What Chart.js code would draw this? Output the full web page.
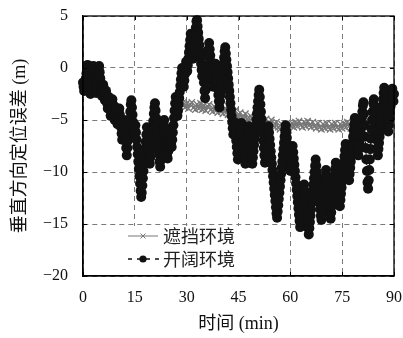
<!DOCTYPE html>
<html>
<head>
<meta charset="utf-8">
<script src="https://cdn.jsdelivr.net/npm/chart.js@4.4.0/dist/chart.umd.min.js"></script>
<style>
  html, body { margin: 0; padding: 0; background: #fff; }
  canvas { display: block; }
</style>
</head>
<body>
<canvas id="c" width="403" height="338"></canvas>
<script>
// Axis ticks
const xTicks = [0, 15, 30, 45, 60, 75, 90];
const yTicks = [-20, -15, -10, -5, 0, 5];
const seriesNames = ['遮挡环境', '开阔环境'];
const xTitle = '时间 (min)';
const yTitle = '垂直方向定位误差 (m)';

// 遮挡环境: vertical error (m), sampled every 0.5 min from 29 min
const blockedStart = 29, blockedStep = 0.5;
const blockedErr = [
  -3.3, -3.8, -3.4, -3.9, -3.5, -3.3, -3.8, -4.0, -3.5, -3.9,
  -3.4, -4.0, -3.6, -4.1, -3.7, -3.5, -4.0, -4.2, -3.7, -4.1,
  -4.3, -3.8, -4.2, -4.4, -3.9, -4.3, -4.5, -4.0, -4.4, -4.6,
  -4.1, -4.6, -4.8, -4.3, -4.7, -4.9, -4.4, -4.9, -5.1, -4.6,
  -4.8, -5.2, -4.7, -5.1, -5.3, -4.8, -5.2, -5.4, -4.9, -5.3,
  -5.5, -5.0, -5.5, -5.7, -5.2, -5.7, -5.9, -5.4, -6.0, -6.1,
  -5.6, -6.0, -5.5, -5.3, -5.7, -5.2, -5.6, -5.1, -5.5, -5.7,
  -5.2, -5.6, -5.1, -5.5, -5.7, -5.2, -5.6, -5.8, -5.3, -5.7,
  -5.9, -5.4, -5.8, -5.3, -5.7, -5.9, -5.4, -5.8, -5.3, -5.7,
  -5.9, -5.4, -5.8, -5.3, -5.7, -5.2, -5.6, -5.8, -5.3, -5.1,
  -5.6, -5.2, -5.0, -5.5, -5.1, -5.6, -5.2, -5.0, -5.5, -5.1,
  -4.9, -5.4, -5.6, -5.1, -5.5, -5.0, -5.4, -5.6, -5.1, -4.9,
  -5.4, -5.0, -5.2
];

// 开阔环境: vertical error (m), sampled every 10 s from 0 min (one row per minute)
const openStart = 0, openStep = 1 / 6;
const openErr = [
  -1.4, -1.8, -2.2, -1.9, -1.4, -1.0,
  -0.5, -0.1, 0.3, -0.2, -0.8, -1.4,
  -2.0, -2.5, -2.0, -1.4, -0.8, -0.2,
  0.2, -0.3, -0.9, -1.5, -2.1, -2.4,
  -1.8, -1.2, -0.6, -0.1, 0.2, -0.4,
  -1.0, -1.6, -2.2, -2.7, -2.2, -1.6,
  -1.9, -2.5, -3.1, -2.7, -2.2, -2.8,
  -3.4, -3.9, -3.3, -2.8, -3.4, -4.0,
  -4.6, -4.1, -3.5, -3.0, -3.5, -4.1,
  -4.7, -5.0, -4.4, -3.8, -4.3, -4.9,
  -5.4, -4.8, -4.2, -3.9, -4.5, -5.1,
  -5.7, -6.3, -6.9, -6.3, -5.7, -5.0,
  -5.6, -6.3, -7.0, -7.7, -8.4, -7.7,
  -7.0, -6.3, -5.6, -4.9, -4.2, -3.5,
  -3.1, -3.8, -4.5, -5.2, -5.9, -6.6,
  -6.0, -5.5, -6.2, -6.9, -7.6, -8.3,
  -9.0, -9.7, -10.4, -11.1, -11.8, -12.4,
  -12.0, -11.3, -10.6, -9.9, -9.2, -8.5,
  -7.8, -7.1, -6.4, -5.7, -6.4, -7.1,
  -7.8, -8.5, -9.2, -8.6, -7.9, -7.2,
  -6.5, -5.8, -5.1, -4.4, -3.8, -3.4,
  -4.1, -4.8, -5.5, -6.2, -6.9, -7.6,
  -8.3, -9.0, -9.5, -8.9, -8.2, -7.5,
  -6.8, -6.1, -5.4, -5.0, -5.7, -6.4,
  -7.1, -7.8, -8.5, -8.7, -8.0, -7.3,
  -6.6, -5.9, -6.6, -7.3, -7.6, -6.9,
  -6.2, -5.5, -4.8, -4.1, -3.4, -2.8,
  -3.4, -4.0, -4.6, -4.1, -3.5, -2.9,
  -2.3, -1.7, -1.1, -0.5, 0.0, -0.6,
  -1.2, -1.8, -1.2, -0.6, 0.0, 0.6,
  0.2, -0.3, 0.3, 0.9, 1.5, 2.1,
  2.7, 3.3, 2.7, 2.1, 1.5, 0.9,
  1.5, 2.1, 2.7, 3.3, 3.9, 4.5,
  4.6, 4.0, 3.4, 2.8, 2.2, 1.6,
  1.0, 0.4, -0.2, -0.8, 0.2, 1.2,
  -1.4, -2.2, -2.9, -2.1, -1.3, -0.5,
  0.3, 1.1, 1.8, 2.4, 1.8, 1.2,
  0.6, 0.0, -0.6, -1.2, -1.8, -1.2,
  -0.6, 0.0, 0.4, -0.2, -0.8, -1.4,
  -2.0, -2.6, -3.2, -3.8, -3.2, -2.6,
  -2.0, -1.4, -0.8, -0.2, 0.4, 1.0,
  1.6, 2.0, 1.4, 0.8, 0.2, -0.4,
  -1.0, -1.6, -2.2, -2.8, -3.4, -4.0,
  -4.6, -5.2, -5.8, -6.4, -5.8, -5.2,
  -5.8, -6.4, -7.0, -7.6, -8.2, -8.8,
  -8.3, -7.7, -7.1, -6.5, -5.9, -5.3,
  -5.9, -6.5, -7.1, -7.7, -8.3, -8.9,
  -9.2, -8.6, -8.0, -7.4, -6.8, -6.2,
  -5.6, -6.2, -6.8, -7.4, -8.0, -8.6,
  -9.2, -8.6, -8.0, -7.4, -6.8, -6.2,
  -5.6, -5.0, -4.4, -3.8, -3.2, -2.6,
  -2.1, -2.8, -3.5, -4.2, -4.9, -5.6,
  -6.3, -7.0, -7.7, -8.4, -9.1, -8.6,
  -8.0, -7.4, -6.8, -6.2, -5.6, -6.2,
  -6.8, -7.4, -8.0, -8.6, -9.2, -9.8,
  -10.4, -11.0, -11.6, -12.2, -12.8, -13.4,
  -14.0, -14.4, -13.8, -13.2, -12.6, -12.0,
  -11.4, -10.8, -10.2, -9.6, -9.0, -8.4,
  -7.8, -7.2, -6.6, -6.0, -5.5, -6.1,
  -6.7, -7.3, -7.9, -8.5, -9.1, -9.7,
  -9.9, -9.3, -8.7, -8.1, -7.5, -8.1,
  -8.7, -9.3, -9.9, -10.5, -11.1, -11.7,
  -12.3, -12.9, -13.5, -14.1, -14.7, -15.3,
  -14.8, -14.2, -13.6, -13.0, -12.4, -11.8,
  -11.2, -11.8, -12.4, -13.0, -13.6, -14.2,
  -14.8, -15.4, -16.0, -15.4, -14.8, -14.2,
  -13.6, -13.0, -12.4, -11.8, -11.2, -10.6,
  -10.0, -9.4, -8.8, -9.4, -10.0, -10.6,
  -11.2, -11.8, -12.4, -13.0, -13.6, -14.2,
  -14.6, -14.0, -13.4, -12.8, -12.2, -11.6,
  -11.0, -10.4, -9.8, -10.4, -11.0, -11.6,
  -12.2, -12.8, -13.4, -14.0, -14.5, -13.9,
  -13.3, -12.7, -12.1, -11.5, -10.9, -10.3,
  -9.7, -9.1, -9.7, -10.3, -10.9, -11.5,
  -12.1, -12.7, -13.3, -12.7, -12.1, -11.5,
  -10.9, -10.3, -9.7, -9.1, -8.5, -7.9,
  -7.3, -7.9, -8.5, -9.1, -9.7, -10.3,
  -10.8, -10.2, -9.6, -9.0, -8.4, -7.8,
  -7.2, -6.6, -6.0, -5.4, -4.8, -5.4,
  -6.0, -6.6, -7.2, -7.8, -8.4, -7.8,
  -7.2, -6.6, -6.0, -5.4, -4.8, -4.2,
  -3.6, -3.3, -4.4, -5.5, -6.6, -7.7,
  -8.8, -9.9, -11.0, -11.6, -10.8, -9.8,
  -8.8, -7.8, -6.8, -5.9, -5.0, -4.2,
  -3.4, -3.0, -3.7, -4.5, -5.3, -6.1,
  -6.9, -7.7, -8.4, -7.8, -7.2, -6.6,
  -6.0, -5.4, -4.8, -4.2, -3.6, -3.0,
  -2.4, -1.9, -2.5, -3.1, -3.7, -4.3,
  -4.9, -5.5, -6.1, -5.5, -4.9, -4.3,
  -3.7, -3.1, -2.5, -2.0, -2.6, -3.2,
  -2.5
];

const toPoints = (start, step, vals) => vals.map((v, i) => ({ x: start + i * step, y: v }));

const SERIF = '"Liberation Serif", "Noto Sans CJK SC", serif';
const GRAY = '#777';
const fmt = v => String(v).replace('-', '\u2212');

// Solid frame round the plot plus short inward tick marks
const framePlugin = {
  id: 'frame',
  afterDatasetsDraw(chart) {
    const { ctx, chartArea: a, scales: { x, y } } = chart;
    ctx.save();
    ctx.strokeStyle = '#000';
    ctx.lineWidth = 1.3;
    ctx.setLineDash([]);
    ctx.strokeRect(a.left, a.top, a.right - a.left, a.bottom - a.top);
    ctx.lineWidth = 1;
    ctx.beginPath();
    xTicks.forEach(v => {
      const px = Math.round(x.getPixelForValue(v)) + 0.5;
      ctx.moveTo(px, a.bottom); ctx.lineTo(px, a.bottom - 4);
      ctx.moveTo(px, a.top); ctx.lineTo(px, a.top + 4);
    });
    yTicks.forEach(v => {
      const py = Math.round(y.getPixelForValue(v)) + 0.5;
      ctx.moveTo(a.left, py); ctx.lineTo(a.left + 4, py);
      ctx.moveTo(a.right, py); ctx.lineTo(a.right - 4, py);
    });
    ctx.stroke();
    ctx.restore();
  }
};

// Boxed legend in the lower-left corner of the plot
const legendPlugin = {
  id: 'boxLegend',
  afterDraw(chart) {
    const { ctx, chartArea: a } = chart;
    const left = a.left + 42, top = a.bottom - 50;
    ctx.save();
    ctx.fillStyle = '#fff';
    ctx.fillRect(left, top, 120, 49);
    const sx0 = left + 3, sx1 = left + 33, cx = left + 18;
    const rows = [top + 10, top + 33];
    // row 1: grey solid line with cross
    ctx.strokeStyle = GRAY; ctx.lineWidth = 1;
    ctx.beginPath(); ctx.moveTo(sx0, rows[0]); ctx.lineTo(sx1, rows[0]); ctx.stroke();
    ctx.beginPath();
    ctx.moveTo(cx - 2.5, rows[0] - 2.5); ctx.lineTo(cx + 2.5, rows[0] + 2.5);
    ctx.moveTo(cx - 2.5, rows[0] + 2.5); ctx.lineTo(cx + 2.5, rows[0] - 2.5);
    ctx.stroke();
    // row 2: black dashed line with dot
    ctx.strokeStyle = '#111'; ctx.lineWidth = 1.5;
    ctx.setLineDash([4, 5]);
    ctx.beginPath(); ctx.moveTo(sx0, rows[1]); ctx.lineTo(sx1 + 2, rows[1]); ctx.stroke();
    ctx.setLineDash([]);
    ctx.fillStyle = '#111';
    ctx.beginPath(); ctx.arc(cx, rows[1], 3.6, 0, Math.PI * 2); ctx.fill();
    ctx.font = '18px "Noto Sans CJK SC", sans-serif';
    ctx.fillStyle = '#222';
    ctx.textBaseline = 'middle';
    ctx.fillText(seriesNames[0], left + 38, rows[0]);
    ctx.fillText(seriesNames[1], left + 38, rows[1]);
    ctx.restore();
  }
};

new Chart(document.getElementById('c'), {
  type: 'line',
  data: {
    datasets: [
      {
        label: seriesNames[0],
        data: toPoints(blockedStart, blockedStep, blockedErr),
        borderColor: GRAY,
        borderWidth: 1.3,
        pointStyle: 'crossRot',
        pointRadius: 4.5,
        pointBorderColor: GRAY,
        pointBorderWidth: 1.3,
        order: 2
      },
      {
        label: seriesNames[1],
        data: toPoints(openStart, openStep, openErr),
        borderColor: '#111',
        borderWidth: 1,
        borderDash: [3, 2],
        pointStyle: 'circle',
        pointRadius: 5,
        pointBackgroundColor: '#111',
        pointBorderWidth: 0,
        clip: 6,
        order: 1
      }
    ]
  },
  options: {
    responsive: false,
    animation: false,
    devicePixelRatio: 1,
    layout: { padding: { top: 16, right: 9, left: 0, bottom: 0 } },
    plugins: { legend: { display: false }, tooltip: { enabled: false } },
    scales: {
      x: {
        type: 'linear', min: 0, max: 90,
        afterBuildTicks: s => { s.ticks = xTicks.map(v => ({ value: v })); },
        afterFit: s => { s.height = 62; s.paddingLeft = 0; s.paddingRight = 0; },
        ticks: { font: { family: SERIF, size: 16 }, color: '#111', padding: 12, callback: fmt, maxRotation: 0 },
        grid: { color: '#7a7a7a', lineWidth: 1, drawTicks: false },
        border: { display: true, color: '#000', width: 1.3, dash: [5, 4] },
        title: { display: true, text: xTitle, font: { family: SERIF, size: 18 }, color: '#111', padding: { top: 0, bottom: 3 } }
      },
      y: {
        type: 'linear', min: -20, max: 5,
        afterBuildTicks: s => { s.ticks = yTicks.map(v => ({ value: v })); },
        afterFit: s => { s.width = 83; s.paddingTop = 0; s.paddingBottom = 0; },
        ticks: { font: { family: SERIF, size: 16 }, color: '#111', padding: 15, callback: fmt },
        grid: { color: '#7a7a7a', lineWidth: 1, drawTicks: false },
        border: { display: true, color: '#000', width: 1.3, dash: [5, 4] },
        title: { display: true, text: yTitle, font: { family: SERIF, size: 18 }, color: '#111', padding: { top: 9, bottom: 0 } }
      }
    }
  },
  plugins: [framePlugin, legendPlugin]
});
</script>
</body>
</html>
